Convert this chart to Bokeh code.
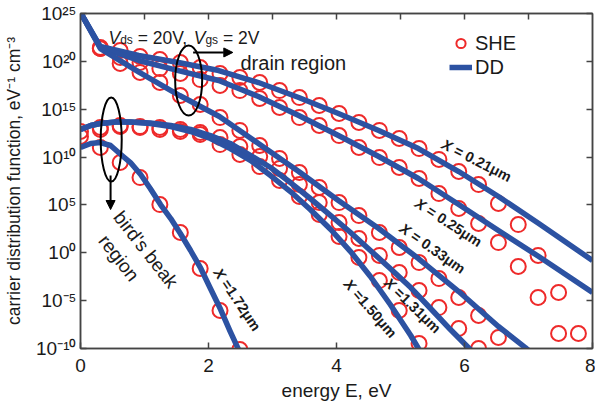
import math
from bokeh.plotting import figure
from bokeh.models import (Range1d, FixedTicker, LinearAxis, LogAxis, CustomJSTickFormatter,
                          Label, Arrow, NormalHead, Legend, LegendItem)
from bokeh.embed import file_html
from bokeh.resources import INLINE

# ---------------- data (energy in eV, values as log10 of eV^-1 cm^-3) ----------------
x_ticks = [0, 2, 4, 6, 8]
x_ticks_top = [1, 2, 3, 4, 5, 6, 7]
y_tick_exponents = [-10, -5, 0, 5, 10, 15, 20, 25]
y_tick_labels = ["10\u207b\u00b9\u2070", "10\u207b\u2075", "10\u2070", "10\u2075",
                 "10\u00b9\u2070", "10\u00b9\u2075", "10\u00b2\u2070", "10\u00b2\u2075"]

# SHE energy grid
she_energy = [0.00, 0.31, 0.62, 0.93, 1.24, 1.56, 1.87, 2.18, 2.49, 2.80, 3.11, 3.42, 3.73,
              4.04, 4.35, 4.67, 4.98, 5.29, 5.60, 5.91, 6.22, 6.53, 6.84, 7.15, 7.47, 7.78]

she_021_log = [21.45, 21.13, 20.51, 20.19, 19.88, 19.36, 18.73, 18.31, 17.79, 16.95, 16.22, 15.39,
               14.55, 13.61, 12.78, 11.94, 10.89, 9.75, 8.49, 7.13, 5.15, 2.95, -0.28, -4.15, -8.43]
she_025_log = [21.34, 20.40, 19.88, 19.25, 18.73, 18.10, 17.48, 16.95, 16.12, 15.18, 14.13, 13.30,
               12.25, 11.00, 9.95, 8.91, 7.76, 6.19, 4.63, 3.06, 1.07, -1.43, -4.67, -8.43]
she_033_log = [21.34, 19.78, 18.84, 17.79, 16.43, 15.49, 14.13, 12.78, 11.21, 9.85, 8.39, 6.82,
               5.25, 3.89, 2.12, 0.55, -1.02, -2.69, -4.67, -6.55, -8.85]
she_131_log = [12.67, 13.09, 13.30, 13.19, 13.09, 12.88, 12.57, 12.04, 11.10, 10.06, 8.81, 7.13,
               5.25, 3.16, 1.49, -0.28, -2.06, -3.94, -5.72, -7.91, -10.0]
she_150_log = [12.15, 12.88, 13.19, 13.09, 12.88, 12.67, 12.36, 11.31, 10.27, 9.01, 7.55, 5.88,
               4.00, 1.70, -0.49, -2.90, -6.03, -9.48]
she_172_log = [11.00, 9.43, 7.86, 5.04, 2.12, -1.64, -6.03, -10.11]

she_021_E = she_energy[1:26]
she_025_E = she_energy[1:25]
she_033_E = she_energy[1:22]
she_131_E = she_energy[0:21]
she_150_E = she_energy[0:18]
she_172_E = she_energy[1:9]

dd_021_E = [0.00, 0.31, 0.91, 1.53, 2.16, 2.78, 3.41, 4.03, 4.66, 5.28, 5.91, 6.53, 7.16, 8.00]
dd_021_log = [25.10, 21.55, 20.61, 19.88, 19.04, 17.79, 16.22, 14.55, 12.78, 10.89, 8.49, 5.88, 3.06, -0.81]

dd_025_E = [0.00, 0.31, 0.91, 1.53, 2.16, 2.78, 3.41, 4.03, 4.66, 5.28, 5.91, 6.53, 7.16, 8.00]
dd_025_log = [25.10, 21.45, 20.09, 19.04, 18.00, 16.33, 14.34, 12.25, 10.06, 7.76, 5.04, 2.33, -0.39, -4.15]

dd_033_E = [0.00, 0.31, 0.92, 1.55, 2.17, 2.78, 3.41, 4.03, 4.66, 5.28, 5.91, 6.53, 6.95, 7.11]
dd_033_log = [25.10, 21.34, 18.84, 16.43, 14.24, 11.42, 8.49, 5.46, 2.54, -0.60, -4.05, -7.70, -9.90, -10.84]

dd_131_E = [0.00, 0.16, 0.31, 0.55, 0.78, 1.09, 1.41, 1.72, 2.03, 2.34, 2.66, 2.97, 3.28, 3.59,
            3.91, 4.22, 4.53, 4.84, 5.16, 5.47, 5.78, 6.09, 6.19]
dd_131_log = [12.88, 13.30, 13.51, 13.66, 13.66, 13.56, 13.30, 12.88, 12.25, 11.42, 10.16, 8.91,
              7.34, 5.67, 3.89, 2.12, 0.24, -1.64, -3.63, -5.82, -8.02, -10.11, -10.84]

dd_150_E = [0.00, 0.16, 0.31, 0.55, 0.78, 1.09, 1.41, 1.72, 2.03, 2.34, 2.66, 2.97, 3.28, 3.59,
            3.91, 4.22, 4.53, 4.84, 5.16, 5.28, 5.36]
dd_150_log = [12.88, 13.30, 13.51, 13.66, 13.66, 13.51, 13.19, 12.67, 11.94, 10.89, 9.64, 8.07,
              6.40, 4.52, 2.43, 0.13, -2.48, -5.40, -8.64, -10.00, -10.84]

dd_172_E = [0.00, 0.16, 0.31, 0.47, 0.63, 0.78, 0.94, 1.09, 1.25, 1.41, 1.56, 1.72, 1.88, 2.03,
            2.19, 2.34, 2.47, 2.53]
dd_172_log = [11.00, 11.42, 11.52, 11.21, 10.27, 9.43, 8.18, 6.72, 5.04, 3.58, 2.01, 0.24, -1.64,
              -3.73, -5.93, -8.23, -10.11, -11.05]

# ---------------- styles ----------------
RED = "#ee2a2a"
BLUE = "#2c52a2"
AX = "#444444"
TXT = "#1a1a1a"
FONT = "Liberation Sans"

p = figure(width=595, height=404, x_range=Range1d(0, 8), y_range=Range1d(1e-10, 1e25),
           y_axis_type="log", output_backend="svg", toolbar_location=None,
           min_border_left=80, min_border_right=3, min_border_top=13, min_border_bottom=56)
p.xgrid.visible = False
p.ygrid.visible = False
p.outline_line_color = AX
p.outline_line_width = 1.5
p.background_fill_color = "white"
p.border_fill_color = "white"


def style_axis(ax):
    ax.axis_line_color = AX
    ax.axis_line_width = 1.5
    ax.major_tick_line_color = AX
    ax.major_tick_line_width = 1.5
    ax.major_tick_in = 6
    ax.major_tick_out = 0
    ax.minor_tick_line_color = None


xa = p.xaxis[0]
style_axis(xa)
xa.ticker = FixedTicker(ticks=x_ticks, minor_ticks=[])
xa.major_label_text_font = FONT
xa.major_label_text_font_size = "19px"
xa.major_label_text_color = TXT
xa.major_label_standoff = 10
xa.axis_label = "energy E, eV"
xa.axis_label_text_font = FONT
xa.axis_label_text_font_size = "19px"
xa.axis_label_text_font_style = "normal"
xa.axis_label_text_color = TXT
xa.axis_label_standoff = 5

ya = p.yaxis[0]
style_axis(ya)
ya.ticker = FixedTicker(ticks=[10.0 ** e for e in y_tick_exponents], minor_ticks=[])
ya.formatter = CustomJSTickFormatter(args=dict(exps=y_tick_exponents, labels=y_tick_labels), code="""
const e = Math.round(Math.log10(tick));
const i = exps.indexOf(e);
return i >= 0 ? labels[i] : "";
""")
ya.major_label_text_font = FONT
ya.major_label_text_font_size = "19px"
ya.major_label_text_color = TXT
ya.major_label_standoff = 4
ya.axis_label = "carrier distribution function, eV\u207b\u00b9 cm\u207b\u00b3"
ya.axis_label_text_font = FONT
ya.axis_label_text_font_size = "17.5px"
ya.axis_label_text_font_style = "normal"
ya.axis_label_text_color = TXT
ya.axis_label_standoff = 9

top = LinearAxis(ticker=FixedTicker(ticks=x_ticks_top, minor_ticks=[]),
                 major_label_text_font_size="1px", major_label_text_color=None,
                 major_label_standoff=0)
style_axis(top)
p.add_layout(top, "above")
right = LogAxis(ticker=FixedTicker(ticks=[10.0 ** e for e in y_tick_exponents], minor_ticks=[]),
                major_label_text_font_size="1px", major_label_text_color=None,
                major_label_standoff=0)
style_axis(right)
p.add_layout(right, "right")

# ---------------- marks ----------------
she_sets = [(she_021_E, she_021_log), (she_025_E, she_025_log), (she_033_E, she_033_log),
            (she_131_E, she_131_log), (she_150_E, she_150_log), (she_172_E, she_172_log)]
dd_sets = [(dd_021_E, dd_021_log), (dd_025_E, dd_025_log), (dd_033_E, dd_033_log),
           (dd_131_E, dd_131_log), (dd_150_E, dd_150_log), (dd_172_E, dd_172_log)]

she_r = []
for ex, lg in she_sets:
    she_r.append(p.scatter(ex, [10.0 ** v for v in lg], marker="circle", size=15,
                           fill_color=None, line_color=RED, line_width=2))
dd_r = []
for ex, lg in dd_sets:
    dd_r.append(p.line(ex, [10.0 ** v for v in lg], line_color=BLUE, line_width=5.5,
                       line_join="round"))

legend = Legend(items=[LegendItem(label="SHE", renderers=[she_r[0]]),
                       LegendItem(label="DD", renderers=[dd_r[0]])],
                location=(369, 269), orientation="vertical",
                glyph_width=23, glyph_height=24, label_height=24, label_standoff=3,
                spacing=0, padding=0, margin=0,
                label_text_font=FONT, label_text_font_size="20px", label_text_color=TXT,
                border_line_alpha=0, background_fill_alpha=0)
p.add_layout(legend)

# ellipses and arrows
p.ellipse(x=[1.69], y=[1e18], width=27, height=70, width_units="screen", height_units="screen",
          fill_color=None, line_color="black", line_width=2)
p.ellipse(x=[0.48], y=[10 ** 11.83], width=21, height=84, width_units="screen",
          height_units="screen", fill_color=None, line_color="black", line_width=2)
p.add_layout(Arrow(end=NormalHead(size=9, fill_color="black", line_color="black"),
                   x_start=1.76, y_start=10 ** 20.93, x_end=2.38, y_end=10 ** 20.93,
                   line_color="black", line_width=2))
p.add_layout(Arrow(end=NormalHead(size=9, fill_color="black", line_color="black"),
                   x_start=0.47, y_start=10 ** 8.07, x_end=0.47, y_end=10 ** 4.52,
                   line_color="black", line_width=2))

# ---------------- texts ----------------
def lab(text, x, y, **kw):
    base = dict(text_font=FONT, text_color=TXT)
    base.update(kw)
    p.add_layout(Label(x=x, y=y, text=text, **base))


# V_ds, V_gs header
hx, hy = 0.4375, 10 ** 22.39
for t, st, fs, ox, oy in [("V", "italic", "17.5px", 0.0, 0), ("ds", "normal", "12px", 11.7, -1.5),
                          ("= 20V,", "normal", "17.5px", 29.2, 0), ("V", "italic", "17.5px", 85.2, 0),
                          ("gs", "normal", "12px", 96.9, -1.5), ("= 2V", "normal", "17.5px", 114.4, 0)]:
    lab(t, hx, hy, x_offset=ox, y_offset=oy, text_font_style=st, text_font_size=fs,
        text_baseline="alphabetic", text_align="left")

lab("drain region", 2.5, 10 ** 19.78, text_font_size="20px", text_baseline="alphabetic")

lab("bird's beak", 1.02, 10 ** 0.34, angle=-math.radians(52), text_align="center",
    text_baseline="middle", text_font_size="19px")
lab("region", 0.60, 10 ** -0.55, angle=-math.radians(52), text_align="center",
    text_baseline="middle", text_font_size="19px")

# curve labels  (X italic bold + rest bold)
BW = {"X": 0.667, " ": 0.278, "=": 0.584, ".": 0.278, "\u03bc": 0.611, "m": 0.889}


def bw(s, fs):
    return sum(BW.get(c, 0.556) for c in s) * fs


curve_label_pos = [("= 0.21\u03bcm", 6.19, 9.64, 27), ("= 0.25\u03bcm", 5.75, 3.16, 33),
                   ("= 0.33\u03bcm", 5.50, 0.45, 35), ("=1.31\u03bcm", 5.19, -5.51, 44),
                   ("=1.50\u03bcm", 4.53, -5.82, 49), ("=1.72\u03bcm", 2.45, -4.88, 56)]
LFS = 14.5
for rest, ex, lg, ang in curve_label_pos:
    wx = bw("X", LFS)
    ws = bw(" ", LFS)
    total = wx + ws + bw(rest, LFS)
    a = wx - total / 2
    b = a + ws
    t = math.radians(ang)
    lab("X", ex, 10 ** lg, x_offset=a * math.cos(t), y_offset=-a * math.sin(t), angle=-t,
        text_align="right", text_baseline="middle", text_font_size=f"{LFS}px",
        text_font_style="bold italic")
    lab(rest, ex, 10 ** lg, x_offset=b * math.cos(t), y_offset=-b * math.sin(t), angle=-t,
        text_align="left", text_baseline="middle", text_font_size=f"{LFS}px",
        text_font_style="bold")

open("out.html", "w", encoding="utf-8").write(file_html(p, INLINE))
